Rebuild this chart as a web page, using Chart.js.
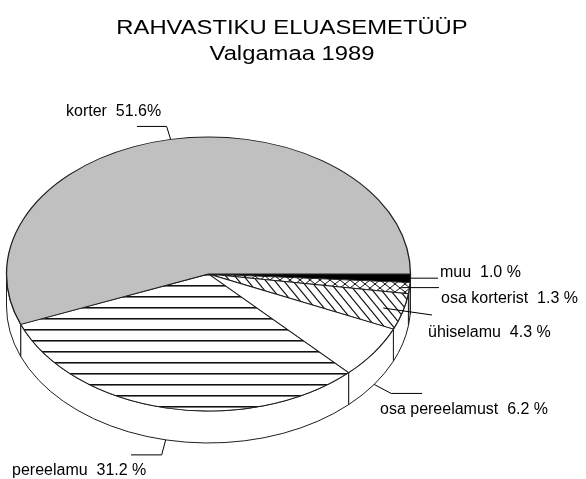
<!DOCTYPE html>
<html><head><meta charset="utf-8">
<script src="https://cdn.jsdelivr.net/npm/chart.js@4.4.1/dist/chart.umd.min.js"></script>
<style>html,body{margin:0;padding:0;background:#fff}canvas{display:block}</style>
</head><body>
<canvas id="c" width="586" height="479"></canvas>
<script>
// ---- data ----
const titleLines = ['RAHVASTIKU ELUASEMETÜÜP', 'Valgamaa 1989'];
const categories = ['muu', 'osa korterist', 'ühiselamu', 'osa pereelamust', 'pereelamu', 'korter'];
const printedPercent = [1.0, 1.3, 4.3, 6.2, 31.2, 51.6];
const percentSign = [' %', ' %', ' %', ' %', ' %', '%'];
// slice sizes as drawn in the picture (the gray slice spans about 56 % of the circle)
const sliceShares = [1.0, 1.3, 4.3, 6.2, 31.2, 56.0];

// ---- styling / layout ----
const TILT = 137 / 202;
const DEPTH = 32;
const EDGE = '#1e1e1e';
const FONT = '"Liberation Sans", Arial, sans-serif';

function makeTile(w, h, draw) {
  const c = document.createElement('canvas');
  c.width = w; c.height = h;
  const g = c.getContext('2d');
  g.fillStyle = '#fff'; g.fillRect(0, 0, w, h);
  draw(g, w, h);
  return g.createPattern(c, 'repeat');
}
const horizPat = makeTile(8, 11, (g, w) => {
  g.fillStyle = '#111'; g.fillRect(0, 10, w, 1);
  g.fillStyle = '#777'; g.fillRect(0, 0, w, 1);
});
const diagPat = makeTile(9, 11, (g, w, h) => {
  g.strokeStyle = '#111'; g.lineWidth = 1.1;
  for (let k = -1; k <= 1; k++) {
    g.beginPath(); g.moveTo(k * w - 1, -1.2); g.lineTo(k * w + w + 1, h + 1.2); g.stroke();
  }
});
const crossPat = makeTile(10, 8, (g, w, h) => {
  g.strokeStyle = '#111'; g.lineWidth = 1;
  for (let k = -1; k <= 1; k++) {
    g.beginPath(); g.moveTo(k * w - 1, -0.8); g.lineTo(k * w + w + 1, h + 0.8); g.stroke();
    g.beginPath(); g.moveTo(k * w + w + 1, -0.8); g.lineTo(k * w - 1, h + 0.8); g.stroke();
  }
});
const patterns = [horizPat, diagPat, crossPat];
const fills = ['#000000', crossPat, diagPat, '#ffffff', horizPat, '#c0c0c0'];

// label placement (layout only): text position + leader shape
const labelLayout = [
  { text: [440, 277], reach: 0.97, end: [438, null] },
  { text: [441, 303], reach: 0.96, end: [439, null] },
  { text: [428, 337], reach: 0.90, end: [432, 315] },
  { text: [380, 414], side: true, bend: [17, 9], end: [422, null] },
  { text: [12, 475], side: true, bend: [-4, 15], end: [131, null] },
  { text: [66, 116], reach: 1.0, bend: [-4, -13], end: [137, null] }
];

const pie3d = {
  id: 'pie3d',
  beforeDatasetsDraw(chart) {
    const ctx = chart.ctx;
    const arcs = chart.getDatasetMeta(0).data;
    const cx = arcs[0].x, cy = arcs[0].y, r = arcs[0].outerRadius;
    const rx = r, ry = r * TILT;
    // align patterns to the screen pixel grid inside the tilted space
    const f = -cy * (1 - TILT) / TILT;
    patterns.forEach(p => p.setTransform(new DOMMatrix([1, 0, 0, 1 / TILT, 0, f])));
    // side walls
    ctx.save();
    ctx.lineWidth = 1; ctx.strokeStyle = EDGE; ctx.fillStyle = '#fff'; ctx.lineJoin = 'round';
    arcs.forEach(el => {
      const a = Math.max(el.startAngle, 0), b = Math.min(el.endAngle, Math.PI);
      if (b <= a) return;
      ctx.beginPath();
      ctx.ellipse(cx, cy, rx, ry, 0, a, b, false);
      ctx.lineTo(cx + rx * Math.cos(b), cy + ry * Math.sin(b) + DEPTH);
      ctx.ellipse(cx, cy + DEPTH, rx, ry, 0, b, a, true);
      ctx.closePath();
      ctx.fill(); ctx.stroke();
    });
    ctx.restore();
    // tilt the top face
    ctx.save();
    ctx.translate(cx, cy); ctx.scale(1, TILT); ctx.translate(-cx, -cy);
  },
  afterDatasetsDraw(chart) {
    const ctx = chart.ctx;
    ctx.restore();
    const arcs = chart.getDatasetMeta(0).data;
    const cx = arcs[0].x, cy = arcs[0].y, r = arcs[0].outerRadius;
    const rx = r, ry = r * TILT;
    ctx.save();
    ctx.strokeStyle = '#000'; ctx.lineWidth = 1;
    ctx.fillStyle = '#000';
    ctx.font = '16px ' + FONT;
    ctx.textBaseline = 'alphabetic';
    arcs.forEach((el, i) => {
      const L = labelLayout[i];
      const mid = (el.startAngle + el.endAngle) / 2;
      const k = L.side ? 1 : L.reach;
      let x = cx + rx * k * Math.cos(mid);
      let y = cy + ry * k * Math.sin(mid) + (L.side ? DEPTH : 0);
      ctx.beginPath();
      ctx.moveTo(x, y);
      if (L.bend) { x += L.bend[0]; y += L.bend[1]; ctx.lineTo(x, y); }
      const ey = L.end[1] === null ? y : L.end[1];
      ctx.lineTo(L.end[0], ey);
      ctx.stroke();
      const txt = categories[i] + '  ' + printedPercent[i].toFixed(1) + percentSign[i];
      ctx.fillText(txt, L.text[0], L.text[1]);
    });
    // title (the original type is slightly wide)
    ctx.font = '20px ' + FONT;
    ctx.textAlign = 'center';
    const tb = [34, 59.5];
    titleLines.forEach((t, i) => {
      ctx.save();
      ctx.translate(292, tb[i]);
      ctx.scale(1.19, 1);
      ctx.fillText(t, 0, 0);
      ctx.restore();
    });
    ctx.restore();
  }
};

new Chart(document.getElementById('c'), {
  type: 'pie',
  data: {
    labels: categories,
    datasets: [{
      data: sliceShares,
      backgroundColor: fills,
      hoverBackgroundColor: fills,
      borderColor: EDGE,
      borderWidth: 1.3,
      clip: false
    }]
  },
  options: {
    responsive: false,
    animation: false,
    events: [],
    rotation: 90,
    radius: 202,
    layout: { padding: { left: 0, right: 169, top: 137, bottom: 68 } },
    plugins: { legend: { display: false }, tooltip: { enabled: false }, title: { display: false } }
  },
  plugins: [pie3d]
});
</script>
</body></html>
